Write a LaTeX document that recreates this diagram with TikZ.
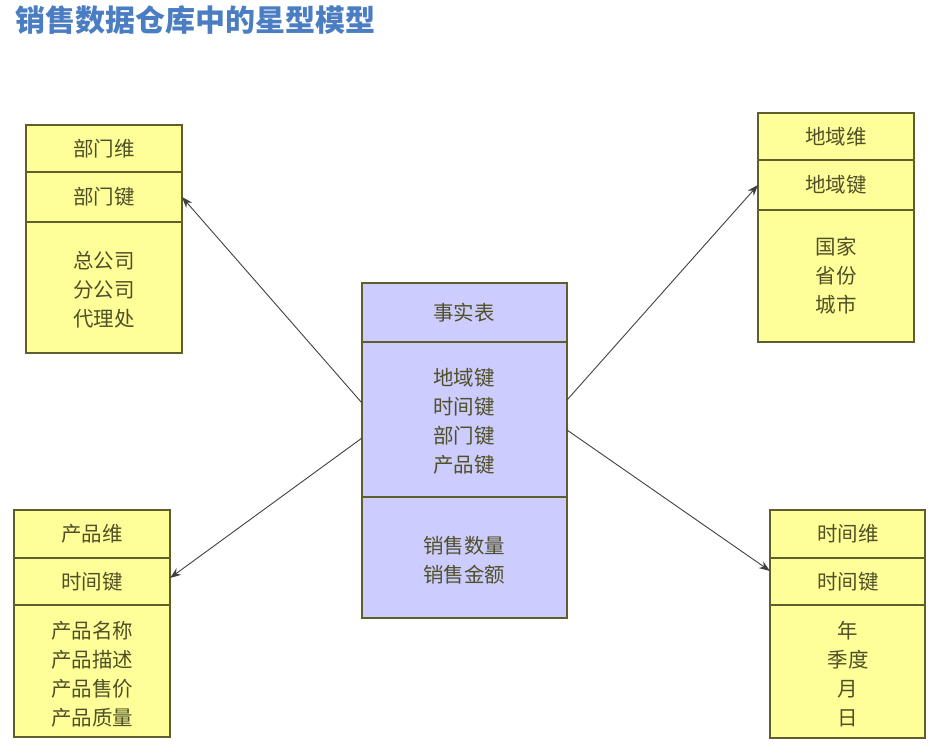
\documentclass[tikz,border=0pt]{standalone}
\usepackage{fontspec}
\setmainfont{Noto Sans CJK SC}
\usetikzlibrary{arrows.meta}
\definecolor{yel}{RGB}{255,255,153}
\definecolor{lav}{RGB}{204,204,255}
\definecolor{bord}{RGB}{95,95,45}
\definecolor{txt}{RGB}{80,80,40}
\definecolor{ttl}{RGB}{75,125,195}
\begin{document}
\begin{tikzpicture}[x=1pt,y=-1pt,
  ybox/.style={draw=bord,line width=1.3pt,fill=yel},
  fbox/.style={draw=bord,line width=1.3pt,fill=lav},
  lbl/.style={text=txt,font=\fontsize{20.5}{29}\selectfont,align=center},
  conn/.style={draw=black!75,line width=0.9pt,-{Stealth[length=11pt,width=8pt]}}]
\useasboundingbox (0,0) rectangle (950,748);
\node[anchor=west,text=ttl,font=\fontsize{30}{34}\selectfont\bfseries] (title) at (12,20) {销售数据仓库中的星型模型};
% department
\draw[ybox] (26,125) rectangle (182,353);
\draw[bord,line width=1.3pt] (26,172) -- (182,172) (26,222) -- (182,222);
\node[lbl] (d1) at (104,149) {部门维};
\node[lbl] (d2) at (104,197) {部门键};
\node[lbl] (d3) at (104,290) {总公司\\分公司\\代理处};
% region
\draw[ybox] (758,113) rectangle (914,342);
\draw[bord,line width=1.3pt] (758,160) -- (914,160) (758,210) -- (914,210);
\node[lbl] (r1) at (836,137) {地域维};
\node[lbl] (r2) at (836,185) {地域键};
\node[lbl] (r3) at (836,276) {国家\\省份\\城市};
% product
\draw[ybox] (14,510) rectangle (170,737);
\draw[bord,line width=1.3pt] (14,558) -- (170,558) (14,605) -- (170,605);
\node[lbl] (p1) at (92,534) {产品维};
\node[lbl] (p2) at (92,582) {时间键};
\node[lbl] (p3) at (92,674) {产品名称\\产品描述\\产品售价\\产品质量};
% time
\draw[ybox] (770,510) rectangle (925,738);
\draw[bord,line width=1.3pt] (770,558) -- (925,558) (770,605) -- (925,605);
\node[lbl] (t1) at (848,534) {时间维};
\node[lbl] (t2) at (848,582) {时间键};
\node[lbl] (t3) at (848,674) {年\\季度\\月\\日};
% fact
\draw[fbox] (362,283) rectangle (567,618);
\draw[bord,line width=1.3pt] (362,342) -- (567,342) (362,497) -- (567,497);
\node[lbl] (f1) at (464,313) {事实表};
\node[lbl] (f2) at (464,421) {地域键\\时间键\\部门键\\产品键};
\node[lbl] (f3) at (464,560) {销售数量\\销售金额};
% connector ends
\coordinate (fa) at (362,403);
\coordinate (fb) at (567,400);
\coordinate (fc) at (362,438);
\coordinate (fd) at (567,430);
\coordinate (da) at (182,197);
\coordinate (ra) at (758,185);
\coordinate (pa) at (170,578);
\coordinate (ta) at (770,571);
\draw[conn] (fa) -- (da);
\draw[conn] (fb) -- (ra);
\draw[conn] (fc) -- (pa);
\draw[conn] (fd) -- (ta);
\end{tikzpicture}
\end{document}
